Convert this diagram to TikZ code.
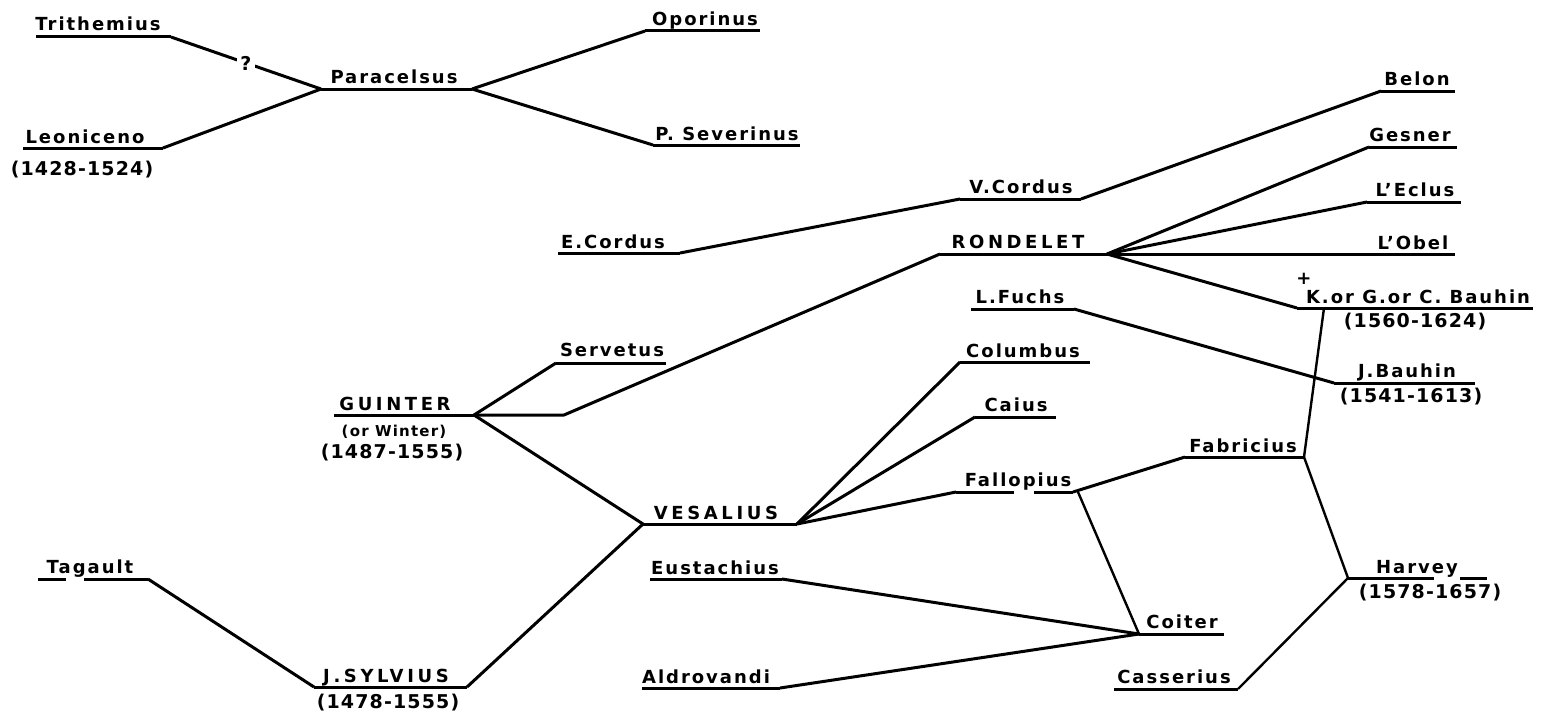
\documentclass[tikz,border=0pt]{standalone}
\usepackage{fontspec}
\setmainfont{DejaVu Sans}
\newcommand{\nmfont}{\fontsize{18}{21}\selectfont\bfseries\addfontfeatures{LetterSpace=11}}
\newcommand{\capfont}{\fontsize{18}{21}\selectfont\bfseries\addfontfeatures{LetterSpace=20}}
\newcommand{\yrfont}{\fontsize{19}{22}\selectfont\bfseries\addfontfeatures{LetterSpace=6}}
\newcommand{\smfont}{\fontsize{15}{17}\selectfont\bfseries\addfontfeatures{LetterSpace=8}}
\begin{document}
\begin{tikzpicture}[x=1pt,y=-1pt,
    bar/.style={line width=3pt,line join=round},
    link/.style={line width=3pt,line join=round},
    slim/.style={line width=2.4pt},
    who/.style={anchor=base,inner sep=0pt,font=\nmfont},
    big/.style={anchor=base,inner sep=0pt,font=\capfont},
    yrs/.style={inner sep=0pt,font=\yrfont},
    note/.style={inner sep=0pt,font=\smfont}]
\useasboundingbox (0,0) rectangle (1546,717);

\node[who] (tri) at (98,31) {Trithemius};
\node[who] (leo) at (85,143) {Leoniceno};
\node[yrs] (leo-y) at (82,170) {(1428-1524)};
\node[who] (par) at (394,83) {Paracelsus};
\node[who] (opo) at (705,26) {Oporinus};
\node[who] (sev) at (727,140) {P. Severinus};
\node[who] (eco) at (613,248) {E.Cordus};
\node[who] (vco) at (1021,193) {V.Cordus};
\node[who] (bel) at (1417,85) {Belon};
\node[who] (ges) at (1410,141) {Gesner};
\node[who] (ecl) at (1415,196) {L’Eclus};
\node[who] (obe) at (1413,249) {L’Obel};
\node[big] (ron) at (1018,248) {RONDELET};
\node[who] (plus) at (1304,284) {+};
\node[who] (kba) at (1418,303) {K.or G.or C. Bauhin};
\node[yrs] (kba-y) at (1415,322) {(1560-1624)};
\node[who] (fuc) at (1020,303) {L.Fuchs};
\node[who] (jba) at (1407,377) {J.Bauhin};
\node[yrs] (jba-y) at (1411,397) {(1541-1613)};
\node[who] (ser) at (612,356) {Servetus};
\node[big] (gui) at (395,410) {GUINTER};
\node[note] (gui-n) at (394,432) {(or Winter)};
\node[yrs] (gui-y) at (392,453) {(1487-1555)};
\node[big] (ves) at (716,519) {VESALIUS};
\node[who] (tag) at (90,573) {Tagault};
\node[big] (syl) at (386,682) {J.SYLVIUS};
\node[yrs] (syl-y) at (388,703) {(1478-1555)};
\node[who] (eus) at (715,574) {Eustachius};
\node[who] (ald) at (706,683) {Aldrovandi};
\node[who] (col) at (1023,357) {Columbus};
\node[who] (cai) at (1016,411) {Caius};
\node[who] (fal) at (1018,486) {Fallopius};
\node[who] (fab) at (1243,452) {Fabricius};
\node[who] (coi) at (1182,628) {Coiter};
\node[who] (har) at (1417,573) {Harvey};
\node[yrs] (har-y) at (1430,593) {(1578-1657)};
\node[who] (cas) at (1174,683) {Casserius};

\coordinate (tri-w) at (36,37);   \coordinate (tri-e) at (171,37);
\coordinate (leo-w) at (23,148);  \coordinate (leo-e) at (163,148);
\coordinate (par-w) at (321,89);  \coordinate (par-e) at (472,89);
\coordinate (opo-w) at (645,31);  \coordinate (opo-e) at (760,31);
\coordinate (sev-w) at (653,145); \coordinate (sev-e) at (800,145);
\coordinate (eco-w) at (558,253); \coordinate (eco-e) at (680,253);
\coordinate (vco-w) at (960,199); \coordinate (vco-e) at (1081,199);
\coordinate (bel-w) at (1381,91); \coordinate (bel-e) at (1455,91);
\coordinate (ges-w) at (1369,147); \coordinate (ges-e) at (1457,147);
\coordinate (ecl-w) at (1367,202); \coordinate (ecl-e) at (1461,202);
\coordinate (obe-w) at (1370,254); \coordinate (obe-e) at (1455,254);
\coordinate (ron-w) at (940,254); \coordinate (ron-e) at (1107,254);
\coordinate (kba-w) at (1297,308); \coordinate (kba-e) at (1533,308);
\coordinate (kba-s) at (1324,308);
\coordinate (fuc-w) at (971,309); \coordinate (fuc-e) at (1074,309);
\coordinate (jba-w) at (1334,383); \coordinate (jba-e) at (1475,383);
\coordinate (ser-w) at (556,363); \coordinate (ser-e) at (666,363);
\coordinate (gui-w) at (334,415); \coordinate (gui-e) at (474,415);
\coordinate (gui-k) at (564,415);
\coordinate (ves-w) at (643,524); \coordinate (ves-e) at (797,524);
\coordinate (tag-w) at (38,579);  \coordinate (tag-e) at (148,579);
\coordinate (syl-w) at (314,687); \coordinate (syl-e) at (467,687);
\coordinate (eus-w) at (650,579); \coordinate (eus-e) at (782,579);
\coordinate (ald-w) at (642,688); \coordinate (ald-e) at (780,688);
\coordinate (col-w) at (960,362); \coordinate (col-e) at (1090,362);
\coordinate (cai-w) at (975,417); \coordinate (cai-e) at (1056,417);
\coordinate (fal-w) at (956,492); \coordinate (fal-e) at (1073,492);
\coordinate (fal-k) at (1078,492);
\coordinate (fab-w) at (1185,457); \coordinate (fab-e) at (1304,457);
\coordinate (coi-w) at (1139,634); \coordinate (coi-e) at (1224,634);
\coordinate (har-w) at (1348,578); \coordinate (har-e) at (1487,578);
\coordinate (cas-w) at (1114,689); \coordinate (cas-e) at (1238,689);

\foreach \n in {tri,leo,par,opo,sev,eco,vco,bel,ges,ecl,obe,ron,kba,fuc,jba,ser,gui,ves,syl,eus,ald,col,cai,fab,coi,cas}
  \draw[bar] (\n-w) -- (\n-e);
\draw[bar] (tag-w) -- ++(28,0) ++(18,0) -- (tag-e);
\draw[bar] (fal-w) -- ++(58,0) ++(20,0) -- (fal-e);
\draw[bar] (har-w) -- ++(86,0) ++(26,0) -- (har-e);

\draw[link] (tri-e) -- node[fill=white,inner sep=3pt,font=\yrfont] (qm) {?} (par-w);
\draw[link] (leo-e) -- (par-w);
\draw[link] (par-e) -- (opo-w);
\draw[link] (par-e) -- (sev-w);
\draw[link] (eco-e) -- (vco-w);
\draw[link] (vco-e) -- (bel-w);
\draw[link] (ron-e) -- (ges-w);
\draw[link] (ron-e) -- (ecl-w);
\draw[link] (ron-e) -- (obe-w);
\draw[link] (ron-e) -- (kba-w);
\draw[link] (gui-e) -- (ser-w);
\draw[link] (gui-e) -- (gui-k) -- (ron-w);
\draw[link] (gui-e) -- (ves-w);
\draw[link] (tag-e) -- (syl-w);
\draw[link] (syl-e) -- (ves-w);
\draw[link] (ves-e) -- (col-w);
\draw[link] (ves-e) -- (cai-w);
\draw[link] (ves-e) -- (fal-w);
\draw[link] (eus-e) -- (coi-w);
\draw[link] (ald-e) -- (coi-w);
\draw[link] (fal-e) -- (fab-w);
\draw[link] (fuc-e) -- (jba-w);
\draw[slim] (fal-k) -- (coi-w);
\draw[slim] (fab-e) -- (kba-s);
\draw[slim] (fab-e) -- (har-w);
\draw[slim] (cas-e) -- (har-w);
\end{tikzpicture}
\end{document}
